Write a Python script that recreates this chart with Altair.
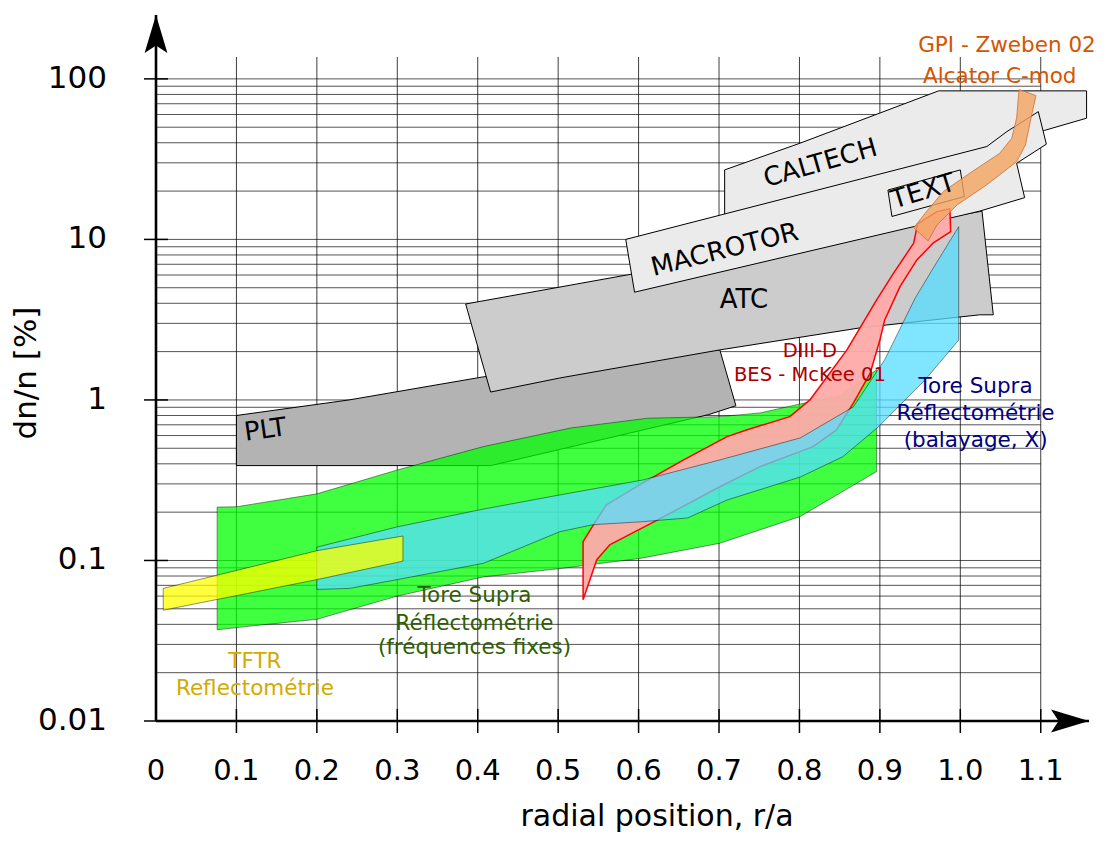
import altair as alt
import pandas as pd

FONT = "DejaVu Sans"

# ---------------- axes / grid values ----------------
X_MAX = 1.16
Y_MIN = 0.01
Y_MAX = 250
GRID_TOP = 137
X_GRID = [0.1, 0.2, 0.3, 0.4, 0.5, 0.6, 0.7, 0.8, 0.9, 1.0, 1.1]
X_LABEL_POS = [0, 0.1, 0.2, 0.3, 0.4, 0.5, 0.6, 0.7, 0.8, 0.9, 1.0, 1.1]
X_LABELS = ["0", "0.1", "0.2", "0.3", "0.4", "0.5", "0.6", "0.7", "0.8", "0.9", "1.0", "1.1"]
Y_TICKS = [0.01, 0.1, 1, 10, 100]
Y_LABELS = ["0.01", "0.1", "1", "10", "100"]
Y_GRID = [0.01, 0.02, 0.03, 0.04, 0.05, 0.06, 0.07, 0.08, 0.09,
          0.1, 0.2, 0.3, 0.4, 0.5, 0.6, 0.7, 0.8, 0.9,
          1, 2, 3, 4, 5, 6, 7, 8, 9,
          10, 20, 30, 40, 50, 60, 70, 80, 90, 100]

# ---------------- regions (r/a, dn/n %) ----------------
PLT_x = [0.100, 0.240, 0.406, 0.701, 0.721, 0.687, 0.416, 0.100]
PLT_y = [0.80, 1.00, 1.39, 2.05, 0.92, 0.81, 0.39, 0.39]

ATC_x = [0.385, 1.027, 1.041, 1.024, 0.875, 0.701, 0.502, 0.416]
ATC_y = [3.96, 15.0, 3.39, 3.39, 2.81, 2.05, 1.37, 1.12]

CALTECH_x = [0.707, 0.801, 0.973, 1.157, 1.157, 1.105, 1.049, 0.707]
CALTECH_y = [27.1, 39.8, 84.2, 84.2, 56.9, 47.8, 38.2, 12.9]

MACROTOR_x = [0.584, 1.033, 1.058, 1.097, 1.107, 1.070, 1.080, 1.024, 0.595]
MACROTOR_y = [10.0, 37.9, 47.0, 62.5, 39.2, 29.8, 18.2, 15.0, 4.69]

TEXTBOX_x = [0.910, 1.000, 1.005, 0.915]
TEXTBOX_y = [20.3, 27.1, 18.5, 13.9]

GREEN_x = [0.076, 0.100, 0.200, 0.300, 0.407, 0.516, 0.611, 0.701, 0.751, 0.801, 0.850, 0.896,
           0.896, 0.801, 0.701, 0.602, 0.502, 0.407, 0.300, 0.200, 0.117, 0.076]
GREEN_y = [0.215, 0.216, 0.260, 0.366, 0.512, 0.669, 0.769, 0.787, 0.830, 0.944, 1.06, 1.54,
           0.358, 0.188, 0.128, 0.103, 0.089, 0.079, 0.060, 0.043, 0.039, 0.037]

RED_x = [0.531, 0.531, 0.544, 0.560, 0.608, 0.656, 0.710, 0.734, 0.788, 0.813, 0.859, 0.896,
         0.917, 0.942, 0.947, 0.971, 0.987, 0.988, 0.966, 0.946, 0.925, 0.906, 0.900, 0.888,
         0.867, 0.846, 0.817, 0.751, 0.701, 0.622, 0.564, 0.548]
RED_y = [0.057, 0.131, 0.167, 0.222, 0.310, 0.423, 0.591, 0.650, 0.787, 1.00, 2.05, 4.20,
         6.16, 9.47, 12.5, 14.9, 15.5, 11.2, 9.47, 7.45, 5.08, 3.15, 2.36, 1.47,
         0.954, 0.650, 0.512, 0.384, 0.288, 0.177, 0.125, 0.101]

CYAN_x = [0.200, 0.300, 0.407, 0.502, 0.605, 0.701, 0.801, 0.867, 0.906, 0.944, 0.968, 0.998,
          0.998, 0.956, 0.898, 0.854, 0.801, 0.710, 0.661, 0.602, 0.543, 0.502, 0.407, 0.300,
          0.241, 0.200]
CYAN_y = [0.121, 0.162, 0.209, 0.256, 0.317, 0.423, 0.580, 0.905, 1.78, 4.32, 6.84, 12.0,
          2.36, 1.33, 0.679, 0.443, 0.331, 0.238, 0.184, 0.174, 0.167, 0.151, 0.096, 0.076,
          0.067, 0.066]

YELLOW_x = [0.009, 0.200, 0.307, 0.307, 0.200, 0.009]
YELLOW_y = [0.067, 0.115, 0.142, 0.099, 0.076, 0.049]

ORANGE_x = [1.073, 1.070, 1.064, 1.049, 1.012, 0.979, 0.958, 0.942, 0.960, 0.971, 0.996, 1.033,
            1.070, 1.081, 1.087, 1.094]
ORANGE_y = [85.8, 56.9, 42.7, 34.4, 25.9, 19.9, 14.9, 11.8, 9.79, 12.3, 16.4, 21.9,
            30.5, 38.8, 54.2, 78.7]

# ---------------- labels ----------------
BOX_LABELS = ["CALTECH", "MACROTOR", "TEXT", "ATC", "PLT"]
BOX_LABEL_x = [0.826, 0.707, 0.954, 0.731, 0.136]
BOX_LABEL_y = [29.8, 8.6, 19.9, 4.2, 0.65]
BOX_LABEL_angle = [344, 346, 343, 0, 352]

GPI_text = ["GPI - Zweben 02", "Alcator C-mod"]
GPI_x = [1.058, 1.049]
GPI_y = [146.7, 94.0]

DIIID_text = ["DIII-D", "BES - McKee 01"]
DIIID_x = [0.813, 0.813]
DIIID_y = [1.845, 1.319]

TSX_text = ["Tore Supra", "Réflectométrie", "(balayage, X)"]
TSX_x = [1.019, 1.019, 1.019]
TSX_y = [1.101, 0.750, 0.512]

TSF_text = ["Tore Supra", "Réflectométrie", "(fréquences fixes)"]
TSF_x = [0.396, 0.396, 0.396]
TSF_y = [0.0554, 0.0369, 0.0262]

TFTR_text = ["TFTR", "Reflectométrie"]
TFTR_x = [0.123, 0.123]
TFTR_y = [0.0213, 0.0145]

# ---------------- helpers ----------------
XS = alt.Scale(domain=[0, X_MAX], nice=False, zero=False)
YS = alt.Scale(type="log", domain=[Y_MIN, Y_MAX], nice=False)


def X(f):
    return alt.X(f, type="quantitative", scale=XS, axis=None)


def Y(f):
    return alt.Y(f, type="quantitative", scale=YS, axis=None)


def poly(xs, ys, fill, fop, stroke, sw, sop=1.0):
    xs = list(xs) + [xs[0]]
    ys = list(ys) + [ys[0]]
    df = pd.DataFrame({"x": xs, "y": ys, "i": list(range(len(xs)))})
    return alt.Chart(df).mark_line(
        fill=fill, fillOpacity=fop, stroke=stroke, strokeWidth=sw,
        strokeOpacity=sop, strokeJoin="round", interpolate="linear"
    ).encode(x=X("x"), y=Y("y"), order=alt.Order("i:Q"))


def texts(xs, ys, tt, color, size, angle=0, baseline="alphabetic"):
    df = pd.DataFrame({"x": xs, "y": ys, "t": tt})
    return alt.Chart(df).mark_text(
        color=color, fontSize=size, font=FONT, angle=angle,
        baseline=baseline, align="center"
    ).encode(x=X("x"), y=Y("y"), text="t:N")


layers = []

# grid
vg = pd.DataFrame({"x": X_GRID, "y1": [Y_MIN] * len(X_GRID), "y2": [GRID_TOP] * len(X_GRID)})
layers.append(alt.Chart(vg).mark_rule(color="black", strokeWidth=0.9, opacity=0.85).encode(
    x=X("x"), y=Y("y1"), y2=alt.Y2("y2")))
hg = pd.DataFrame({"y": Y_GRID, "x1": [0] * len(Y_GRID), "x2": [1.1] * len(Y_GRID)})
layers.append(alt.Chart(hg).mark_rule(color="black", strokeWidth=0.9, opacity=0.75).encode(
    y=Y("y"), x=X("x1"), x2=alt.X2("x2")))

# regions
layers.append(poly(PLT_x, PLT_y, "#b3b3b3", 1.0, "black", 1.0))
layers.append(poly(ATC_x, ATC_y, "#cccccc", 1.0, "black", 1.0))
layers.append(poly(CALTECH_x, CALTECH_y, "#ebebeb", 1.0, "black", 1.0))
layers.append(poly(MACROTOR_x, MACROTOR_y, "#ebebeb", 1.0, "black", 1.0))
layers.append(poly(TEXTBOX_x, TEXTBOX_y, "#ebebeb", 1.0, "black", 1.0))
layers.append(poly(GREEN_x, GREEN_y, "#00ff00", 0.75, "#000000", 0.8, 0.55))
layers.append(poly(RED_x, RED_y, "#ffaaaa", 0.95, "#ff0000", 1.5))
layers.append(poly(CYAN_x, CYAN_y, "#55ddff", 0.75, "#000000", 0.8, 0.55))
layers.append(poly(YELLOW_x, YELLOW_y, "#ffff00", 0.75, "#000000", 0.8, 0.55))
layers.append(poly(ORANGE_x, ORANGE_y, "#f4a460", 0.8, "#c87137", 1.0, 0.8))

# region labels
for i in range(len(BOX_LABELS)):
    layers.append(texts([BOX_LABEL_x[i]], [BOX_LABEL_y[i]], [BOX_LABELS[i]], "black", 26,
                        angle=BOX_LABEL_angle[i], baseline="middle"))
layers.append(texts(GPI_x, GPI_y, GPI_text, "#d45500", 21.5))
layers.append(texts(DIIID_x, DIIID_y, DIIID_text, "#aa0000", 19.5))
layers.append(texts(TSX_x, TSX_y, TSX_text, "#000080", 21.5))
layers.append(texts(TSF_x, TSF_y, TSF_text, "#2f6000", 21.5))
layers.append(texts(TFTR_x, TFTR_y, TFTR_text, "#d4aa00", 21.5))

# axis lines
ya = pd.DataFrame({"x": [0], "y1": [Y_MIN], "y2": [Y_MAX]})
layers.append(alt.Chart(ya).mark_rule(color="black", strokeWidth=2.6).encode(
    x=X("x"), y=Y("y1"), y2=alt.Y2("y2")))
xa = pd.DataFrame({"y": [Y_MIN], "x1": [0], "x2": [X_MAX]})
layers.append(alt.Chart(xa).mark_rule(color="black", strokeWidth=2.6).encode(
    y=Y("y"), x=X("x1"), x2=alt.X2("x2")))

# arrow heads
layers.append(alt.Chart(pd.DataFrame({"x": [0], "y": [Y_MAX]})).mark_point(
    shape="M0,0 L0.6,2 L0,1.6 L-0.6,2 Z", size=1444, filled=True, color="black",
    opacity=1, strokeWidth=0).encode(x=X("x"), y=Y("y")))
layers.append(alt.Chart(pd.DataFrame({"x": [X_MAX], "y": [Y_MIN]})).mark_point(
    shape="M0,0 L-2,-0.6 L-1.6,0 L-2,0.6 Z", size=1444, filled=True, color="black",
    opacity=1, strokeWidth=0).encode(x=X("x"), y=Y("y")))

# ticks
yt = pd.DataFrame({"y": Y_TICKS, "lab": Y_LABELS})
layers.append(alt.Chart(yt).mark_rule(color="black", strokeWidth=1.5).encode(
    y=Y("y"), x=alt.value(-12), x2=alt.value(12)))
layers.append(alt.Chart(yt).mark_text(font=FONT, fontSize=31, align="right", baseline="middle",
                                      color="black").encode(
    y=Y("y"), x=alt.value(-49), text="lab:N"))
xt = pd.DataFrame({"x": X_GRID})
layers.append(alt.Chart(xt).mark_rule(color="black", strokeWidth=1.5).encode(
    x=X("x"), y=alt.value(694), y2=alt.value(718)))
xl = pd.DataFrame({"x": X_LABEL_POS, "lab": X_LABELS})
layers.append(alt.Chart(xl).mark_text(font=FONT, fontSize=29, align="center", baseline="alphabetic",
                                      color="black").encode(
    x=X("x"), y=alt.value(765), text="lab:N"))

# axis titles
layers.append(alt.Chart(pd.DataFrame({"t": ["radial position, r/a"]})).mark_text(
    font=FONT, fontSize=30, align="center", baseline="alphabetic", color="black").encode(
    x=alt.value(501), y=alt.value(811), text="t:N"))
layers.append(alt.Chart(pd.DataFrame({"t": ["dn/n [%]"]})).mark_text(
    font=FONT, fontSize=31, align="center", baseline="middle", angle=270, color="black").encode(
    x=alt.value(-129), y=alt.value(358), text="t:N"))

chart = alt.layer(*layers).properties(
    width=933, height=706,
    padding={"left": 148, "top": 7, "right": 10, "bottom": 117},
    autosize=alt.AutoSizeParams(type="none"),
).configure_view(stroke=None)

chart.save("out.html", embed_options={"renderer": "svg", "actions": False})
